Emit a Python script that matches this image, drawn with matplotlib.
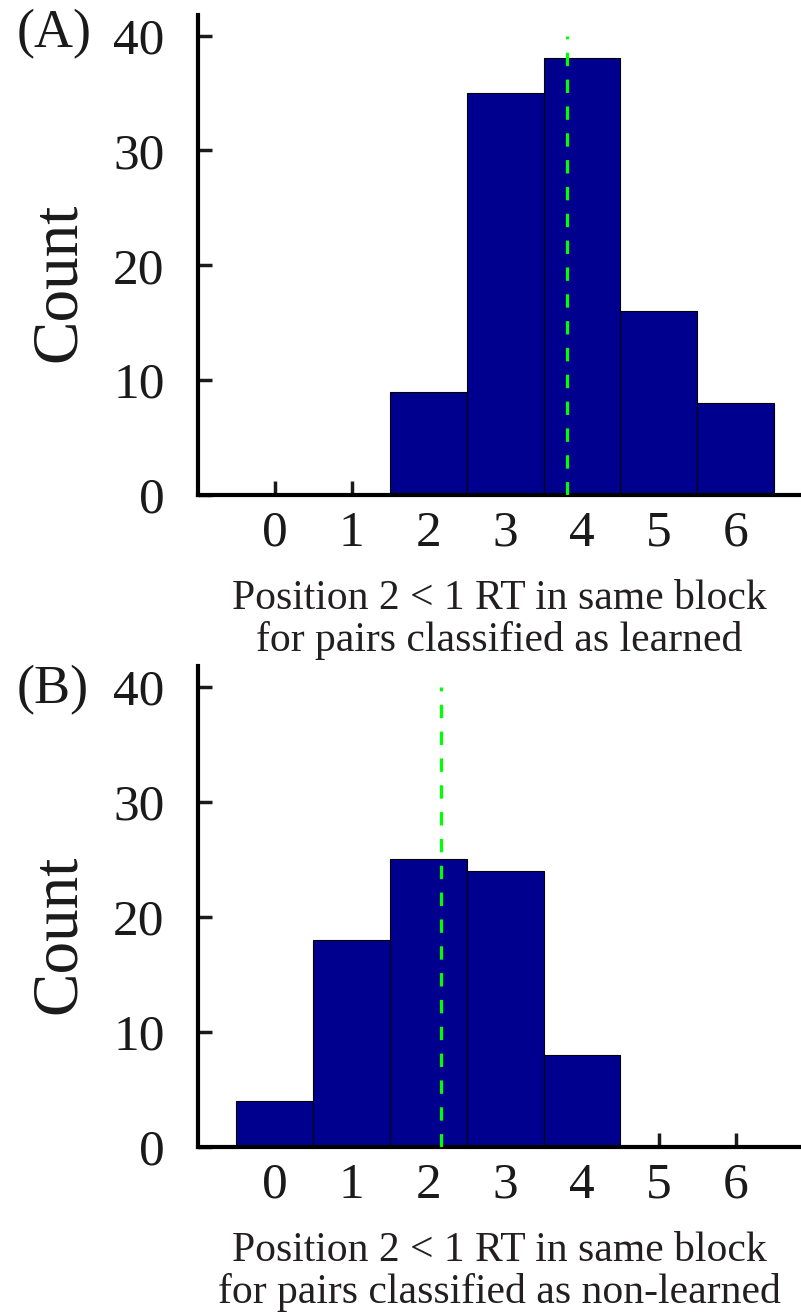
import matplotlib.pyplot as plt

plt.rcParams["font.family"] = ["Liberation Serif", "DejaVu Serif"]

# Histogram counts per bin (bins centred on 0..6)
bins = [0, 1, 2, 3, 4, 5, 6]
counts_learned = [0, 0, 9, 35, 38, 16, 8]
counts_nonlearned = [4, 18, 25, 24, 8, 0, 0]
median_learned = 3.81
median_nonlearned = 2.16
panel_labels = ["(A)", "(B)"]
xlabels = [
    "Position 2 < 1 RT in same block\nfor pairs classified as learned",
    "Position 2 < 1 RT in same block\nfor pairs classified as non-learned",
]

BAR_COLOR = "#00008F"
LINE_COLOR = "#00FF00"

fig = plt.figure(figsize=(8.01, 13.12), dpi=100)
axes = [
    fig.add_axes([0.247, 0.6227, 0.753, 0.366]),
    fig.add_axes([0.247, 0.1258, 0.753, 0.3666]),
]

panels = zip(axes, [counts_learned, counts_nonlearned],
             [median_learned, median_nonlearned], panel_labels, xlabels,
             [1.012, 1.003])
for ax, counts, median, tag, xlabel, tag_y in panels:
    ax.bar(bins, counts, width=1.0, color=BAR_COLOR, edgecolor="black",
           linewidth=0.8, zorder=2)
    ax.vlines(median, 0, 40, colors=LINE_COLOR, linewidth=2.3,
              linestyles=(0, (4.2, 4.2)), zorder=3)

    ax.set_xlim(-1.0, 6.85)
    ax.set_ylim(0, 41.8)
    ax.set_xticks(bins)
    ax.set_yticks([0, 10, 20, 30, 40])
    ax.tick_params(direction="in", length=10, width=2.5, labelsize=37,
                   colors="#1a1a1a")
    ax.tick_params(axis="x", pad=11)
    ax.tick_params(axis="y", pad=24)
    for side in ["top", "right"]:
        ax.spines[side].set_visible(False)
    for side in ["left", "bottom"]:
        ax.spines[side].set_linewidth(3)

    ax.text(-0.204, 0.443, "Count", transform=ax.transAxes, fontsize=47,
            rotation=90, rotation_mode="anchor", ha="center", va="baseline",
            color="#1a1a1a")
    ax.set_xlabel(xlabel, fontsize=30, linespacing=1.1, color="#231f20")
    ax.xaxis.set_label_coords(0.5, -0.175)
    ax.text(-0.30, tag_y, tag, transform=ax.transAxes, fontsize=39,
            va="top", ha="left", color="#1a1a1a")

fig.savefig("out.png", dpi=100)
